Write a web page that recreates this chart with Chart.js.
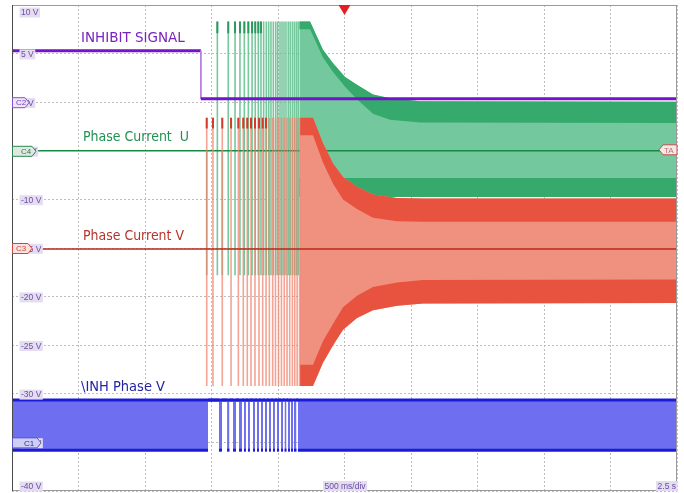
<!DOCTYPE html>
<html>
<head>
<meta charset="utf-8">
<script src="https://cdn.jsdelivr.net/npm/chart.js@4.4.1/dist/chart.umd.min.js"></script>
<style>
  html, body { margin: 0; padding: 0; background: #fff; }
  #wrap { width: 684px; height: 493px; }
</style>
</head>
<body>
<div id="wrap"><canvas id="scope" width="684" height="493"></canvas></div>
<script>
// ---- time base: 500 ms/div, trigger at t = 0 s; vertical: 5 V/div ----
const timeRange = [-2.5, 2.5];
const voltRange = [-40, 10];
const voltTickValues = [10, 5, 0, -5, -10, -15, -20, -25, -30, -35, -40];
const voltTickLabels = ['10 V', '5 V', '0 V', '-5 V', '-10 V', '-15 V', '-20 V', '-25 V', '-30 V', '-35 V', '-40 V'];
const channelNames  = ['C2', 'C4', 'C3', 'C1'];
const channelLevels = [0, -5, -15, -35];
const timeLabels = ['500 ms/div', '2.5 s'];
const traceNames = ['INHIBIT SIGNAL', 'Phase Current  U', 'Phase Current V', '\\INH Phase V'];

// ---- INHIBIT SIGNAL (C2) ----
const inhibitTime  = [-2.5, -1.08, -1.08, 2.5];
const inhibitVolts = [5.3, 5.3, 0.35, 0.35];

// ---- zero lines of the two phase currents ----
const baseTime   = [-2.5, 2.5];
const phaseUZero = [-5.0, -5.0];
const phaseVZero = [-15.1, -15.1];

// ---- start-up commutation spikes ----
const phaseURiseTimes = [-0.956, -0.874, -0.823, -0.786, -0.753, -0.723, -0.695, -0.671, -0.648, -0.628,
                         -0.608, -0.588, -0.570, -0.553, -0.535, -0.517, -0.502, -0.485, -0.470, -0.455,
                         -0.440, -0.423, -0.408, -0.392, -0.377, -0.362, -0.348];
const phaseURiseRange = [-17.8, 8.3];
const phaseUDipTimes  = [-1.036, -0.919];
const phaseUDipRange  = [-17.8, -5.0];
const phaseVSpikeTimes = [-1.036, -0.989, -0.919, -0.853, -0.798, -0.761, -0.731, -0.703, -0.673, -0.643,
                          -0.615, -0.590, -0.565, -0.540, -0.519, -0.496, -0.474, -0.453, -0.432, -0.412,
                          -0.392, -0.374, -0.356, -0.338];
const phaseVSpikeRange = [-29.2, -1.6];

// ---- Phase Current U envelope once the PWM runs continuously ----
const phaseUEnvTime    = [-0.340, -0.259, -0.162, -0.086, 0.004, 0.094, 0.214, 0.342, 0.568, 2.5];
const phaseUTop        = [8.3, 8.3, 5.4, 4.0, 2.6, 1.8, 0.8, 0.4, 0.1, 0.05];
const phaseUTopBand    = [7.5, 7.5, 4.6, 3.1, 1.6, 0.3, -1.2, -1.8, -2.1, -2.15];
const phaseUBottomBand = [-7.8, -7.8, -7.8, -7.8, -7.8, -7.8, -7.8, -7.8, -7.8, -7.8];
const phaseUBottom     = [-9.75, -9.75, -9.75, -9.75, -9.75, -9.75, -9.75, -9.75, -9.75, -9.75];

// ---- Phase Current V envelope ----
const phaseVEnvTime    = [-0.335, -0.237, -0.162, -0.086, -0.011, 0.094, 0.214, 0.395, 0.590, 2.5];
const phaseVTop        = [-1.6, -1.6, -4.2, -6.3, -7.7, -8.7, -9.5, -9.85, -9.9, -9.9];
const phaseVTopBand    = [-3.4, -3.4, -6.2, -8.4, -10.0, -11.0, -11.9, -12.25, -12.3, -12.3];
const phaseVBottomBand = [-27.0, -27.0, -24.6, -22.8, -21.1, -19.9, -19.0, -18.55, -18.3, -18.25];
const phaseVBottom     = [-29.2, -29.2, -26.8, -25.0, -23.4, -22.2, -21.4, -20.95, -20.7, -20.65];

// ---- \INH Phase V (C1): switching bursts between the two logic levels ----
const inhBurstStart = [-2.5, -0.944, -0.883, -0.838, -0.793, -0.756, -0.726, -0.688, -0.658, -0.628,
                       -0.598, -0.568, -0.538, -0.508, -0.477, -0.451, -0.425, -0.402, -0.380, -0.350];
const inhBurstEnd   = [-1.026, -0.921, -0.865, -0.816, -0.771, -0.741, -0.711, -0.673, -0.643, -0.613,
                       -0.583, -0.553, -0.523, -0.492, -0.462, -0.436, -0.410, -0.387, -0.361, 2.5];
const inhLevels = [-30.65, -35.8];   // [high, low]

// ---------------------------------------------------------------------
const pts = (xs, ys) => xs.map((x, i) => ({ x, y: ys[i] }));
const spikes = (times, lo, hi) => {
  const out = [];
  times.forEach(t => { out.push({ x: t, y: lo }, { x: t, y: hi }, { x: t, y: null }); });
  return out;
};
const bursts = (starts, ends, hi, lo) => {
  const out = [];
  starts.forEach((s, i) => {
    out.push({ x: s, y: hi }, { x: s, y: lo }, { x: ends[i], y: lo }, { x: ends[i], y: hi });
  });
  return out;
};
const isVertical = ctx => ctx.p0.parsed.x === ctx.p1.parsed.x;
const trace = (data, extra) => Object.assign({
  data, pointRadius: 0, borderWidth: 0, tension: 0, fill: false, spanGaps: false,
  borderColor: 'rgba(0,0,0,0)', backgroundColor: 'rgba(0,0,0,0)'
}, extra);

const GREEN_LIGHT = '#74c89d', GREEN_DARK = '#36aa6c', GREEN_LINE = '#178a43';
const RED_LIGHT = '#f0907f', RED_DARK = '#e8533f', RED_LINE = '#b8281a';

const datasets = [
  // 0..3 Phase Current U envelope
  trace(pts(phaseUEnvTime, phaseUTop),        { fill: 3, backgroundColor: GREEN_LIGHT, order: 100 }),
  trace(pts(phaseUEnvTime, phaseUTopBand),    { fill: 0, backgroundColor: GREEN_DARK, order: 99 }),
  trace(pts(phaseUEnvTime, phaseUBottomBand), { fill: 3, backgroundColor: GREEN_DARK, order: 99 }),
  trace(pts(phaseUEnvTime, phaseUBottom),     { order: 99 }),
  // 4..7 Phase Current U spikes and zero line
  trace(spikes(phaseURiseTimes, phaseURiseRange[0], phaseURiseRange[1]), { borderWidth: 1.6, borderColor: 'rgba(104,194,146,0.9)', order: 98 }),
  trace(spikes(phaseUDipTimes, phaseUDipRange[0], phaseUDipRange[1]),   { borderWidth: 1.6, borderColor: 'rgba(104,194,146,0.9)', order: 98 }),
  trace(spikes(phaseURiseTimes.slice(0, 10), phaseURiseRange[1] - 1.2, phaseURiseRange[1]), { borderWidth: 2, borderColor: '#2a9a5e', order: 97 }),
  trace(pts(baseTime, phaseUZero), { borderWidth: 1.6, borderColor: GREEN_LINE, order: 96 }),
  // 8..11 Phase Current V envelope
  trace(pts(phaseVEnvTime, phaseVTop),        { fill: 11, backgroundColor: RED_LIGHT, order: 90 }),
  trace(pts(phaseVEnvTime, phaseVTopBand),    { fill: 8, backgroundColor: RED_DARK, order: 89 }),
  trace(pts(phaseVEnvTime, phaseVBottomBand), { fill: 11, backgroundColor: RED_DARK, order: 89 }),
  trace(pts(phaseVEnvTime, phaseVBottom),     { order: 89 }),
  // 12..14 Phase Current V spikes and zero line
  trace(spikes(phaseVSpikeTimes, phaseVSpikeRange[0], phaseVSpikeRange[1]), { borderWidth: 1.6, borderColor: 'rgba(240,132,112,0.75)', order: 88 }),
  trace(spikes(phaseVSpikeTimes.slice(0, 12), phaseVSpikeRange[1] - 1.1, phaseVSpikeRange[1]), { borderWidth: 2, borderColor: '#d8382a', order: 87 }),
  trace(pts(baseTime, phaseVZero), { borderWidth: 1.6, borderColor: RED_LINE, order: 86 }),
  // 15 INHIBIT SIGNAL
  trace(pts(inhibitTime, inhibitVolts), {
    borderWidth: 3, borderColor: '#7412cc', order: 80,
    segment: { borderWidth: ctx => isVertical(ctx) ? 1 : undefined,
               borderColor: ctx => isVertical(ctx) ? '#b27ae0' : undefined }
  }),
  // 16..17 \INH Phase V
  trace(bursts(inhBurstStart, inhBurstEnd, inhLevels[0], inhLevels[1]), {
    fill: { value: inhLevels[0] }, backgroundColor: '#6e6ef0',
    borderWidth: 3, borderColor: '#1c1cd8', order: 70,
    segment: { borderColor: ctx => isVertical(ctx) ? 'rgba(0,0,0,0)' : undefined }
  }),
  trace(pts(baseTime, [inhLevels[0], inhLevels[0]]), { borderWidth: 3, borderColor: '#1c1cd8', order: 69 })
];

// ---------------------------------------------------------------------
function tagShape(ctx, x0, x1, yc, h, pointRight) {
  ctx.beginPath();
  if (pointRight) {
    ctx.moveTo(x0, yc - h / 2); ctx.lineTo(x1 - 4, yc - h / 2); ctx.lineTo(x1, yc);
    ctx.lineTo(x1 - 4, yc + h / 2); ctx.lineTo(x0, yc + h / 2);
  } else {
    ctx.moveTo(x1, yc - h / 2); ctx.lineTo(x0 + 4, yc - h / 2); ctx.lineTo(x0, yc);
    ctx.lineTo(x0 + 4, yc + h / 2); ctx.lineTo(x1, yc + h / 2);
  }
  ctx.closePath();
}

function boxedText(ctx, text, x, yc, align) {
  ctx.font = '8.5px "Liberation Sans", Arial, sans-serif';
  const w = ctx.measureText(text).width;
  const x0 = align === 'right' ? x - w : x;
  ctx.fillStyle = '#e3ddef';
  ctx.fillRect(x0 - 1.5, yc - 5, w + 3, 10);
  ctx.fillStyle = '#6c4ca6';
  ctx.textBaseline = 'middle';
  ctx.textAlign = 'left';
  ctx.fillText(text, x0, yc + 0.5);
}

function traceLabel(ctx, text, x, yc, width, color) {
  ctx.save();
  ctx.font = '13.5px "DejaVu Sans", Verdana, sans-serif';
  const w = ctx.measureText(text).width;
  ctx.translate(x, yc);
  if (w > width) ctx.scale(width / w, 1);
  ctx.fillStyle = color;
  ctx.textBaseline = 'middle';
  ctx.textAlign = 'left';
  ctx.fillText(text, 0, 0);
  ctx.restore();
}

const scopeOverlay = {
  id: 'scopeOverlay',
  beforeDraw(chart) {
    const ctx = chart.ctx;
    ctx.save();
    ctx.fillStyle = '#ffffff';
    ctx.fillRect(0, 0, chart.width, chart.height);
    ctx.restore();
  },
  afterDraw(chart) {
    const { ctx, chartArea: a, scales: { x, y } } = chart;
    ctx.save();

    // screen frame
    ctx.strokeStyle = '#9a9a9a';
    ctx.lineWidth = 1;
    ctx.strokeRect(a.left + 0.5, a.top + 0.5, a.right - a.left - 1, a.bottom - a.top - 1);
    ctx.strokeStyle = '#4a4a4a';
    ctx.beginPath(); ctx.moveTo(a.left + 0.5, a.top); ctx.lineTo(a.left + 0.5, a.bottom); ctx.stroke();

    // volt labels along the left edge
    voltTickValues.forEach((v, i) => {
      let yc = y.getPixelForValue(v) + 0.8;
      if (i === 0) yc = a.top + 7.5;
      if (i === voltTickValues.length - 1) yc = a.bottom - 4.5;
      boxedText(ctx, voltTickLabels[i], a.left + 9, yc, 'left');
    });

    // channel reference markers
    const tagStyles = [
      { x1: 29, fill: '#ece6f6', stroke: '#8a4fd0', text: '#7a3ac0', tx: 15 },
      { x1: 36, fill: '#dfe9e2', stroke: '#2a8a50', text: '#2a7a48', tx: 20 },
      { x1: 32, fill: '#f6e2e0', stroke: '#c8483c', text: '#c8483c', tx: 15 },
      { x1: 41, fill: '#cfcff6', stroke: '#5a5ad0', text: '#2a2ab0', tx: 23 }
    ];
    channelNames.forEach((name, i) => {
      const s = tagStyles[i];
      const yc = y.getPixelForValue(channelLevels[i]) + 0.5;
      tagShape(ctx, a.left + 0.5, a.left + s.x1 - 12, yc, 10, true);
      ctx.fillStyle = s.fill; ctx.fill();
      ctx.lineWidth = 1; ctx.strokeStyle = s.stroke; ctx.stroke();
      ctx.font = '8px "Liberation Sans", Arial, sans-serif';
      ctx.fillStyle = s.text; ctx.textBaseline = 'middle'; ctx.textAlign = 'left';
      ctx.fillText(name, a.left + s.tx - 12 + 1, yc + 0.5);
    });

    // trigger-level tag on the right
    const ty = y.getPixelForValue(-5) - 1;
    tagShape(ctx, a.right - 18, a.right, ty, 10, false);
    ctx.fillStyle = '#f7e8e8'; ctx.fill();
    ctx.strokeStyle = '#c05050'; ctx.lineWidth = 1; ctx.stroke();
    ctx.font = '8px "Liberation Sans", Arial, sans-serif';
    ctx.fillStyle = '#c07070'; ctx.textBaseline = 'middle'; ctx.textAlign = 'left';
    ctx.fillText('TA', a.right - 13, ty + 0.5);

    // trigger position marker
    const tx = x.getPixelForValue(0);
    ctx.fillStyle = '#e31e24';
    ctx.beginPath();
    ctx.moveTo(tx - 6, a.top); ctx.lineTo(tx + 6, a.top); ctx.lineTo(tx, a.top + 10);
    ctx.closePath(); ctx.fill();

    // time base labels
    boxedText(ctx, timeLabels[0], x.getPixelForValue(0) - 20, a.bottom - 5, 'left');
    boxedText(ctx, timeLabels[1], a.right - 1, a.bottom - 5, 'right');

    // trace names
    traceLabel(ctx, traceNames[0], 81, 38, 105, '#7a22bc');
    traceLabel(ctx, traceNames[1], 83, 137, 106, '#1f9150');
    traceLabel(ctx, traceNames[2], 83, 236.5, 101, '#b3352b');
    traceLabel(ctx, traceNames[3], 81, 387.5, 84, '#2323a6');

    ctx.restore();
  }
};

new Chart(document.getElementById('scope'), {
  type: 'line',
  data: { datasets },
  options: {
    responsive: false,
    animation: false,
    events: [],
    layout: { padding: { left: 12, top: 5, right: 7, bottom: 2 } },
    plugins: { legend: { display: false }, tooltip: { enabled: false }, filler: { propagate: false } },
    scales: {
      x: {
        type: 'linear', min: timeRange[0], max: timeRange[1],
        ticks: { display: false, stepSize: 0.5 },
        grid: { color: '#bdbdbd', drawTicks: false, lineWidth: 1 },
        border: { display: false, dash: [2, 2] }
      },
      y: {
        type: 'linear', min: voltRange[0], max: voltRange[1],
        ticks: { display: false, stepSize: 5 },
        grid: { color: '#bdbdbd', drawTicks: false, lineWidth: 1 },
        border: { display: false, dash: [2, 2] }
      }
    }
  },
  plugins: [scopeOverlay]
});
</script>
</body>
</html>
